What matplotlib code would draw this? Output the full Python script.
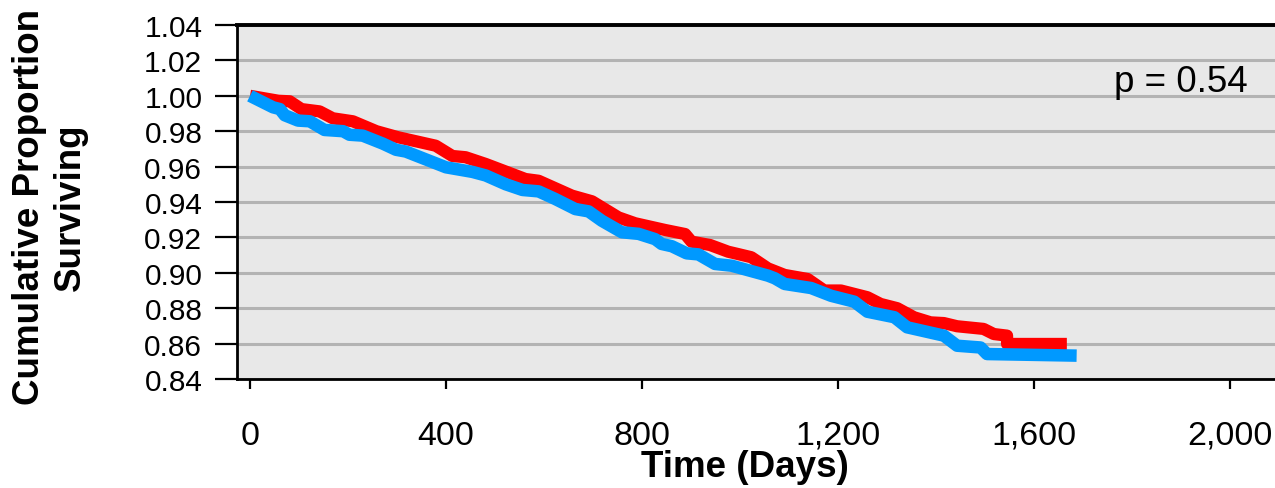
import matplotlib
matplotlib.use("Agg")
import matplotlib.pyplot as plt

plt.rcParams['font.family'] = ['Liberation Sans', 'DejaVu Sans']

# survival curves (days, cumulative proportion)
red_days = [0, 58, 81, 105, 142, 169, 210, 258, 302, 379, 413, 440, 481, 562, 589,
            657, 698, 752, 786, 847, 888, 901, 939, 976, 996, 1023, 1057, 1091, 1138,
            1172, 1206, 1260, 1287, 1321, 1355, 1389, 1416, 1443, 1497, 1518, 1545,
            1545, 1667]
red_surv = [1.000, 0.9972, 0.9969, 0.9925, 0.9912, 0.9873, 0.9856, 0.980, 0.9766,
            0.9718, 0.966, 0.9653, 0.9615, 0.953, 0.952, 0.9436, 0.9404, 0.9313, 0.928,
            0.9242, 0.9219, 0.9176, 0.9157, 0.9119, 0.9106, 0.9088, 0.9025, 0.8988,
            0.8965, 0.890, 0.890, 0.8862, 0.8824, 0.880, 0.8749, 0.872, 0.8716, 0.8698,
            0.8683, 0.8654, 0.8645, 0.8598, 0.8598]

blue_days = [0, 47, 61, 71, 98, 122, 152, 190, 203, 230, 271, 298, 318, 400, 454, 481,
             522, 556, 589, 623, 664, 691, 718, 759, 793, 827, 840, 861, 891, 915, 949,
             983, 1057, 1071, 1091, 1145, 1186, 1233, 1260, 1315, 1341, 1416, 1443,
             1491, 1504, 1687]
blue_surv = [1.000, 0.9935, 0.9925, 0.989, 0.986, 0.9856, 0.9807, 0.980, 0.978, 0.9775,
             0.973, 0.9695, 0.9685, 0.9596, 0.957, 0.955, 0.950, 0.9468, 0.946, 0.9417,
             0.936, 0.9347, 0.9294, 0.9229, 0.922, 0.919, 0.9163, 0.915, 0.911, 0.9104,
             0.905, 0.904, 0.8984, 0.8969, 0.8937, 0.8914, 0.887, 0.8837, 0.878, 0.8749,
             0.8692, 0.8645, 0.8588, 0.8578, 0.8541, 0.8532]

x_ticks = [0, 400, 800, 1200, 1600, 2000]
x_labels = ["0", "400", "800", "1,200", "1,600", "2,000"]
y_ticks = [0.84, 0.86, 0.88, 0.90, 0.92, 0.94, 0.96, 0.98, 1.00, 1.02, 1.04]
y_labels = ["%.2f" % v for v in y_ticks]

fig = plt.figure(figsize=(12.75, 4.89), dpi=100)
ax = fig.add_axes([237 / 1275, 1 - 380 / 489, 1043 / 1275, 354 / 489])
ax.set_facecolor("#e8e8e8")

ax.plot(red_days, red_surv, color="#ff0000", linewidth=8.8,
        solid_joinstyle="round", solid_capstyle="butt", zorder=3)
ax.plot(blue_days, blue_surv, color="#0099ff", linewidth=9,
        solid_joinstyle="round", solid_capstyle="butt", zorder=4)

ax.set_xlim(-26.5, 2102)
ax.set_ylim(0.84, 1.04)

ax.set_yticks(y_ticks)
ax.set_yticklabels(y_labels)
ax.set_xticks(x_ticks)
ax.set_xticklabels(x_labels)

ax.grid(axis="y", color="#b3b3b3", linewidth=2.2, zorder=1)
ax.set_axisbelow(True)

for s in ["left", "bottom", "top"]:
    ax.spines[s].set_color("black")
    ax.spines[s].set_linewidth(2)
ax.spines["top"].set_linewidth(2.8)
ax.spines["right"].set_visible(False)

ax.tick_params(axis="y", direction="out", length=16, width=1.6, pad=9,
               labelsize=21.5, color="black")
ax.tick_params(axis="x", direction="out", length=7.5, width=1.6, pad=22,
               labelsize=24.5, color="black")

ax.text(1900, 1.0027, "p = 0.54", fontsize=26.5, ha="center", va="baseline")

fig.text(745 / 1275, 1 - 468 / 489, "Time (Days)", fontsize=26.5, fontweight="bold",
         ha="center", va="center")
fig.text(50 / 1275, 1 - 207 / 489, "Cumulative Proportion\nSurviving", fontsize=26.5,
         fontweight="bold", ha="center", va="center", rotation=90, linespacing=1.2)

fig.savefig("out.png", dpi=100)
